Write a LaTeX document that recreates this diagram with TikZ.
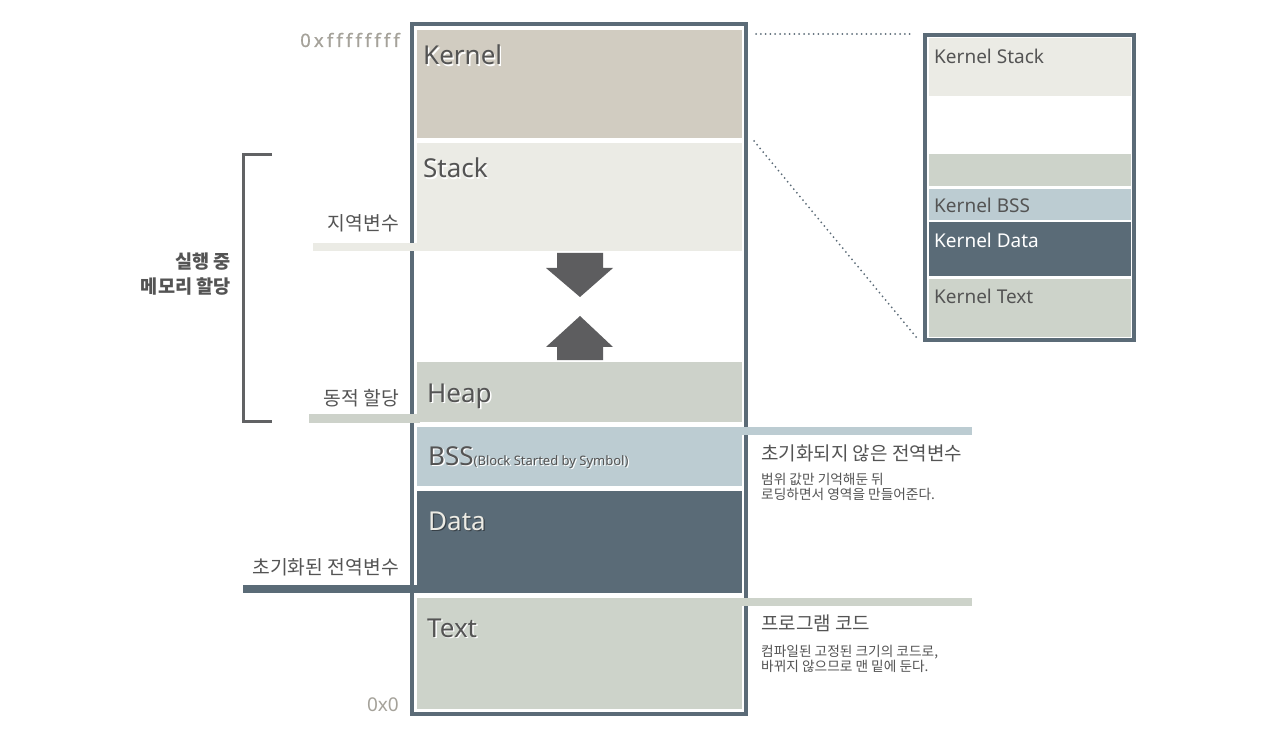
\documentclass[tikz,border=0pt]{standalone}
\usepackage{fontspec}
\setmainfont{Noto Sans}
\newfontfamily\kr{Noto Sans CJK KR}
\newfontfamily\hexf[LetterSpace=17,Ligatures=NoCommon,FakeBold=0.6]{Noto Sans}
\definecolor{frameC}{HTML}{5B6B77}
\definecolor{kernelC}{HTML}{D1CCC1}
\definecolor{stackC}{HTML}{EBEBE5}
\definecolor{heapC}{HTML}{CDD2CA}
\definecolor{bssC}{HTML}{BCCCD2}
\definecolor{dataC}{HTML}{5A6B77}
\definecolor{textC}{HTML}{CDD3CA}
\definecolor{arrowC}{HTML}{5D5D5F}
\definecolor{brackC}{HTML}{616264}
\definecolor{labelC}{HTML}{545454}
\definecolor{hexC}{HTML}{A5A29A}
\definecolor{dataTxt}{HTML}{ECEBE4}
\begin{document}
\begin{tikzpicture}[x=1pt,y=-1pt,
  blk/.style={anchor=north west, inner sep=0pt, outer sep=0pt, minimum width=325pt},
  kblk/.style={anchor=north west, inner sep=0pt, outer sep=0pt, minimum width=202pt},
  frm/.style={draw=frameC, line width=3.5pt, anchor=north west, inner sep=0pt, outer sep=0pt},
  bar/.style={line width=8.5pt, line cap=butt},
  big/.style={font=\fontsize{26}{30}\selectfont, text=labelC, inner sep=0pt, anchor=base west},
  shad/.style={text=white, xshift=1.3pt, yshift=-1.3pt},
  kin/.style={font=\fontsize{19}{22}\selectfont, text=labelC, inner sep=0pt, anchor=base west},
  kl/.style={font=\kr\fontsize{19.3}{22}\selectfont, text=labelC, inner sep=0pt, anchor=base east},
  kh/.style={font=\kr\fontsize{19}{22}\selectfont, text=labelC, inner sep=0pt, anchor=base west},
  ksm/.style={font=\kr\fontsize{13.7}{16}\selectfont, text=labelC, inner sep=0pt, anchor=base west},
  kb/.style={font=\kr\bfseries\fontsize{18.6}{22}\selectfont, text=labelC, inner sep=0pt, anchor=base east},
  hex/.style={font=\hexf\fontsize{18.5}{22}\selectfont, text=hexC, inner sep=0pt, anchor=base east},
  hexz/.style={font=\fontsize{19}{22}\selectfont, text=hexC, inner sep=0pt, anchor=base east},
  dots/.style={draw=frameC, line width=2pt, line cap=round, dash pattern=on 0pt off 4.8pt}
]
\useasboundingbox (0,0) rectangle (1280,743);
\fill[white] (0,0) rectangle (1280,743);

% main memory blocks
\node[blk, fill=kernelC, minimum height=108pt] (kernel) at (417,30) {};
\node[blk, fill=stackC, minimum height=108pt] (stack) at (417,143) {};
\node[blk, fill=heapC, minimum height=60pt] (heap) at (417,362) {};
\node[blk, fill=bssC, minimum height=59pt] (bss) at (417,427) {};
\node[blk, fill=dataC, minimum height=102pt] (data) at (417,491) {};
\node[blk, fill=textC, minimum height=111pt] (text) at (417,598) {};
\node[frm, minimum width=334pt, minimum height=690pt] (frame) at (412,24) {};

% growth arrows
\fill[arrowC] (557,253) -- (603,253) -- (603,268) -- (613,268) -- (580,297) -- (546,268) -- (557,268) -- cycle;
\fill[arrowC] (557,360) -- (603,360) -- (603,347) -- (613,347) -- (580,316) -- (546,347) -- (557,347) -- cycle;

% label bars
\coordinate (b1s) at (313,247); \coordinate (b1e) at (420,247);
\coordinate (b2s) at (309,418.5); \coordinate (b2e) at (420,418.5);
\coordinate (b3s) at (740,431); \coordinate (b3e) at (972,431);
\coordinate (b4s) at (243,589); \coordinate (b4e) at (420,589);
\coordinate (b5s) at (740,602); \coordinate (b5e) at (972,602);
\draw[bar, stackC] (b1s) -- (b1e);
\draw[bar, heapC] (b2s) -- (b2e);
\draw[bar, bssC] (b3s) -- (b3e);
\draw[bar, dataC] (b4s) -- (b4e);
\draw[bar, textC] (b5s) -- (b5e);

% bracket
\coordinate (brt) at (272,154.5); \coordinate (brb) at (272,421);
\draw[brackC, line width=3pt] (brt) -- (243.5,154.5) -- (243.5,421) -- (brb);

% block labels
\node[big, shad] at (423,65) {Kernel};
\node[big] (lkernel) at (423,65) {Kernel};
\node[big, shad] at (423,178) {Stack};
\node[big] (lstack) at (423,178) {Stack};
\node[big, shad] at (427,402) {Heap};
\node[big] (lheap) at (427,402) {Heap};
\node[big, shad] at (428,465) {BSS{\fontsize{13}{15}\selectfont(Block Started by Symbol)}};
\node[big] (lbss) at (428,465) {BSS{\fontsize{13}{15}\selectfont(Block Started by Symbol)}};
\node[big, text=frameC!60!black, xshift=1.2pt, yshift=-1.2pt] at (428,530) {Data};
\node[big, text=dataTxt] (ldata) at (428,530) {Data};
\node[big, shad] at (427,637) {Text};
\node[big] (ltext) at (427,637) {Text};

% addresses
\node[hex] (hi) at (400,47) {0xffffffff};
\node[hexz] (lo) at (399,711) {0x0};

% left labels
\node[kl] (lloc) at (399,231) {지역변수};
\node[kl] (ldyn) at (399,405) {동적 할당};
\node[kl] (lglob) at (399,574) {초기화된 전역변수};
\node[kb] (lrun1) at (231,269) {실행 중};
\node[kb] (lrun2) at (231,294) {메모리 할당};

% right labels
\node[kh] (rbss) at (761,460) {초기화되지 않은 전역변수};
\node[ksm] (rbss1) at (761,484) {범위 값만 기억해둔 뒤};
\node[ksm] (rbss2) at (761,499) {로딩하면서 영역을 만들어준다.};
\node[kh] (rtext) at (761,630) {프로그램 코드};
\node[ksm] (rtext1) at (761,656) {컴파일된 고정된 크기의 코드로,};
\node[ksm] (rtext2) at (761,671) {바뀌지 않으므로 맨 밑에 둔다.};

% kernel detail
\node[kblk, fill=stackC, minimum height=58pt] (kstack) at (929,38) {};
\node[kblk, fill=textC, minimum height=32pt] (kgap) at (929,154) {};
\node[kblk, fill=bssC, minimum height=31pt] (kbss) at (929,189) {};
\node[kblk, fill=dataC, minimum height=54pt] (kdata) at (929,222) {};
\node[kblk, fill=textC, minimum height=58pt] (ktext) at (929,279) {};
\node[frm, minimum width=209pt, minimum height=305pt] (kframe) at (925,35) {};
\node[kin] (lkstack) at (934,64) {Kernel Stack};
\node[kin] (lkbss) at (934,213) {Kernel BSS};
\node[kin, text=white] (lkdata) at (934,248) {Kernel Data};
\node[kin] (lktext) at (934,304) {Kernel Text};

% zoom connectors
\coordinate (z1a) at (756,34); \coordinate (z1b) at (912,34);
\coordinate (z2a) at (754,141); \coordinate (z2b) at (917,338);
\draw[dots] (z1a) -- (z1b);
\draw[dots] (z2a) -- (z2b);
\end{tikzpicture}
\end{document}
